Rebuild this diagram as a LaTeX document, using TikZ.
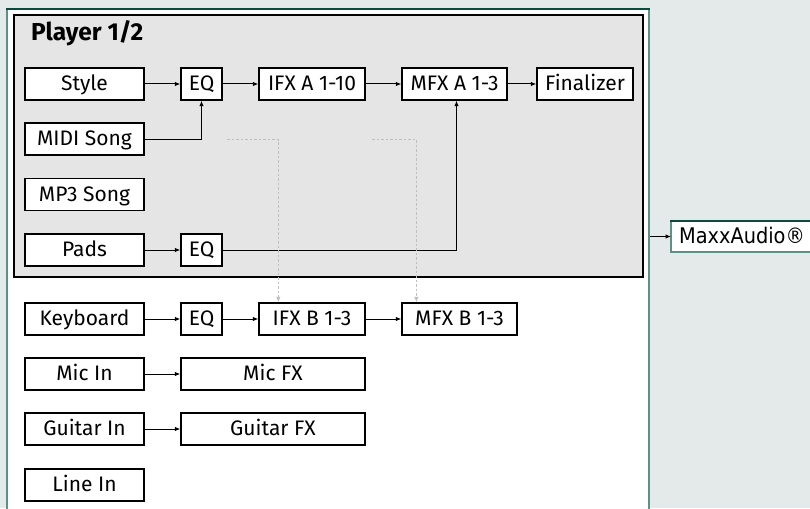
\documentclass[tikz,border=0pt]{standalone}
\usepackage{fontspec}
\setmainfont{Fira Sans}
\newfontfamily\maxxfont{DejaVu Sans Condensed}
\usetikzlibrary{arrows.meta,calc}
\definecolor{bgc}{HTML}{E4EAE9}
\definecolor{greyfill}{HTML}{E5E5E5}
\definecolor{darkgreen}{HTML}{0D4A3C}
\definecolor{teal}{HTML}{5E9086}
\definecolor{dotgrey}{HTML}{BEBEBE}
\tikzset{
  blk/.style={draw=black, line width=1.3pt, fill=white, minimum height=32pt, inner sep=0pt,
    text height=14.5pt, text depth=1pt, font=\fontsize{21}{23}\selectfont},
  wide/.style={blk, minimum width=119pt},
  eq/.style={blk, minimum width=41pt},
  fx/.style={blk, minimum width=106pt},
  conn/.style={line width=1pt, -{Latex[length=5.5pt,width=4.5pt]}},
  dotc/.style={dotgrey, line width=1.4pt, dash pattern=on 2.5pt off 2pt, -{Latex[length=5.5pt,width=4.5pt]}}
}
\begin{document}
\begin{tikzpicture}[x=1pt,y=-1pt]
\useasboundingbox (0,0) rectangle (810,508);
\fill[bgc] (0,0) rectangle (810,508);
% outer white box
\fill[white] (7,9) rectangle (649,530);
\draw[teal, line width=2.4pt] (7,530) -- (7,9) (649,9) -- (649,530);
\draw[darkgreen, line width=2pt] (6,9) -- (650,9);
% inner grey box
\draw[black, line width=1.4pt, fill=greyfill] (14,15) rectangle (643,277);
\node[anchor=base west, font=\fontsize{24.5}{26}\selectfont\bfseries, inner sep=0pt] (title) at (31,41) {Player 1/2};

\node[wide] (style) at (84.5,84) {Style};
\node[eq] (eq1) at (201.5,84) {EQ};
\node[fx] (ifxa) at (312,84) {IFX A 1-10};
\node[blk, minimum width=105pt] (mfxa) at (454.5,84) {MFX A 1-3};
\node[blk, minimum width=96pt] (fin) at (585,84) {Finalizer};
\node[wide] (midi) at (84.5,139) {MIDI Song};
\node[wide] (mp3) at (84.5,194.5) {MP3 Song};
\node[wide] (pads) at (84.5,250) {Pads};
\node[eq] (eq2) at (201.5,250) {EQ};

\node[wide] (key) at (84.5,319) {Keyboard};
\node[eq] (eq3) at (201.5,319) {EQ};
\node[fx] (ifxb) at (312,319) {IFX B 1-3};
\node[blk, minimum width=115pt] (mfxb) at (459.5,319) {MFX B 1-3};
\node[wide] (mic) at (84.5,374) {Mic In};
\node[blk, minimum width=184pt] (micfx) at (273,374) {Mic FX};
\node[wide] (gtr) at (84.5,429) {Guitar In};
\node[blk, minimum width=184pt] (gtrfx) at (273,429) {Guitar FX};
\node[wide] (line) at (84.5,485) {Line In};

% MaxxAudio
\fill[white] (671,221) rectangle (830,252);
\draw[teal, line width=1.6pt] (671,221) -- (671,252) -- (830,252);
\draw[darkgreen, line width=1.6pt] (670,221) -- (830,221);
\node[anchor=base west, inner sep=0pt, font=\maxxfont\fontsize{21.5}{23}\selectfont] (maxx) at (679,243) {MaxxAudio®};
\coordinate (mxin) at (671,236.5);
\coordinate (outr) at (650,236.5);
\draw[conn] (outr) -- (mxin);

% connectors
\draw[conn] (style) -- (eq1);
\draw[conn] (eq1) -- (ifxa);
\draw[conn] (ifxa) -- (mfxa);
\draw[conn] (mfxa) -- (fin);
\draw[conn] (midi.east) -| (eq1.south);
\draw[conn] (pads) -- (eq2);
\draw[conn] (eq2.east) -| ([xshift=2pt]mfxa.south);
\draw[conn] (key) -- (eq3);
\draw[conn] (eq3) -- (ifxb);
\draw[conn] (ifxb) -- (mfxb);
\draw[conn] (mic) -- (micfx);
\draw[conn] (gtr) -- (gtrfx);

% dotted links
\coordinate (d1s) at (227,139.5);
\coordinate (d1e) at ([xshift=20pt]ifxb.north west);
\draw[dotc] (d1s) -| (d1e);
\coordinate (d2s) at (372,139.5);
\coordinate (d2e) at ([xshift=15pt]mfxb.north west);
\draw[dotc] (d2s) -| (d2e);
\end{tikzpicture}
\end{document}
